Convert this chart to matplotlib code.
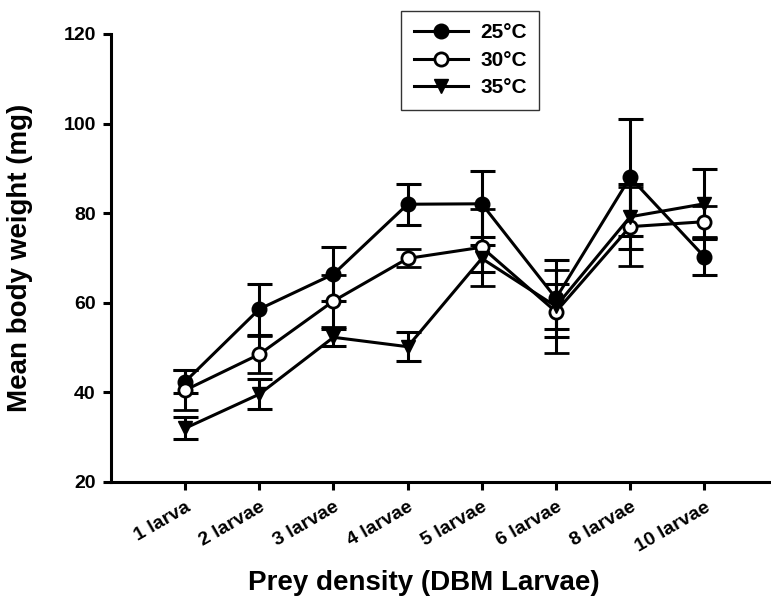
import matplotlib
matplotlib.use("Agg")
import matplotlib.pyplot as plt
from matplotlib.lines import Line2D

plt.rcParams['font.family'] = ['Liberation Sans', 'DejaVu Sans']
plt.rcParams['font.weight'] = 'bold'

categories = ["1 larva", "2 larvae", "3 larvae", "4 larvae", "5 larvae",
              "6 larvae", "8 larvae", "10 larvae"]
mean_25 = [42.4, 58.6, 66.4, 82.0, 82.1, 61.0, 88.0, 70.3]
err_25 = [2.6, 5.7, 6.1, 4.6, 7.4, 8.6, 13.0, 4.0]
mean_30 = [40.5, 48.5, 60.4, 69.9, 72.4, 58.0, 77.0, 78.1]
err_30 = [4.5, 4.2, 5.8, 2.0, 8.6, 9.3, 8.8, 3.5]
mean_35 = [32.0, 39.6, 52.3, 50.2, 69.9, 59.2, 79.2, 82.1]
err_35 = [2.5, 3.3, 1.9, 3.3, 3.0, 5.0, 7.3, 7.7]
series_labels = ["25°C", "30°C", "35°C"]
y_ticks = [20, 40, 60, 80, 100, 120]

W, H = 771, 611
fig = plt.figure(figsize=(W / 100, H / 100), dpi=100)
left, bottom, top = 111, 482, 34
right = 771
ax = fig.add_axes([left / W, 1 - bottom / H, (right - left) / W, (bottom - top) / H])

x = list(range(len(categories)))
lw = 2.2
styles = [
    dict(marker='o', mfc='black', mec='black', ms=10.5),
    dict(marker='o', mfc='white', mec='black', ms=9.5, mew=2.0),
    dict(marker='v', mfc='black', mec='black', ms=10.5),
]
handles = []
for means, errs, st, lab in zip([mean_25, mean_30, mean_35],
                                [err_25, err_30, err_35], styles, series_labels):
    ax.errorbar(x, means, yerr=errs, color='black', lw=lw, elinewidth=lw,
                capsize=9, capthick=lw, zorder=3, clip_on=False, **st)
    handles.append(Line2D([0], [0], color='black', lw=lw, **st))

ax.set_xlim(-1, 7.9)
ax.set_ylim(20, 120)
ax.set_yticks(y_ticks)
ax.set_xticks(x)
ax.set_xticklabels(categories, rotation=30, ha='right', rotation_mode='anchor',
                   fontsize=14, fontweight='bold')
ax.tick_params(axis='y', labelsize=14, width=2.2, length=6, direction='out', pad=5)
ax.tick_params(axis='x', width=2.2, length=6, direction='out', pad=6)
for lab in ax.get_yticklabels():
    lab.set_fontweight('bold')

for s in ['top', 'right']:
    ax.spines[s].set_visible(False)
for s in ['left', 'bottom']:
    ax.spines[s].set_linewidth(2.2)

ax.set_ylabel("Mean body weight (mg)", fontsize=20, fontweight='bold')
ax.yaxis.set_label_coords((20 - left) / (right - left), (bottom - 258) / (bottom - top))
ax.yaxis.label.set_verticalalignment('center')
ax.set_xlabel("Prey density (DBM Larvae)", fontsize=20, fontweight='bold')
ax.xaxis.set_label_coords((424 - left) / (right - left), -(583 - bottom) / (bottom - top))
ax.xaxis.label.set_verticalalignment('center')

leg = ax.legend(handles, series_labels, loc='upper left',
                bbox_to_anchor=((401 - left) / (right - left), 1 + (top - 11) / (bottom - top)),
                borderaxespad=0,
                frameon=True, fancybox=False, edgecolor='black',
                prop={'size': 15, 'weight': 'bold'}, handlelength=2.6,
                borderpad=0.6, labelspacing=0.4, handletextpad=0.6)
leg.get_frame().set_linewidth(1.0)

fig.savefig("out.png", dpi=100)
